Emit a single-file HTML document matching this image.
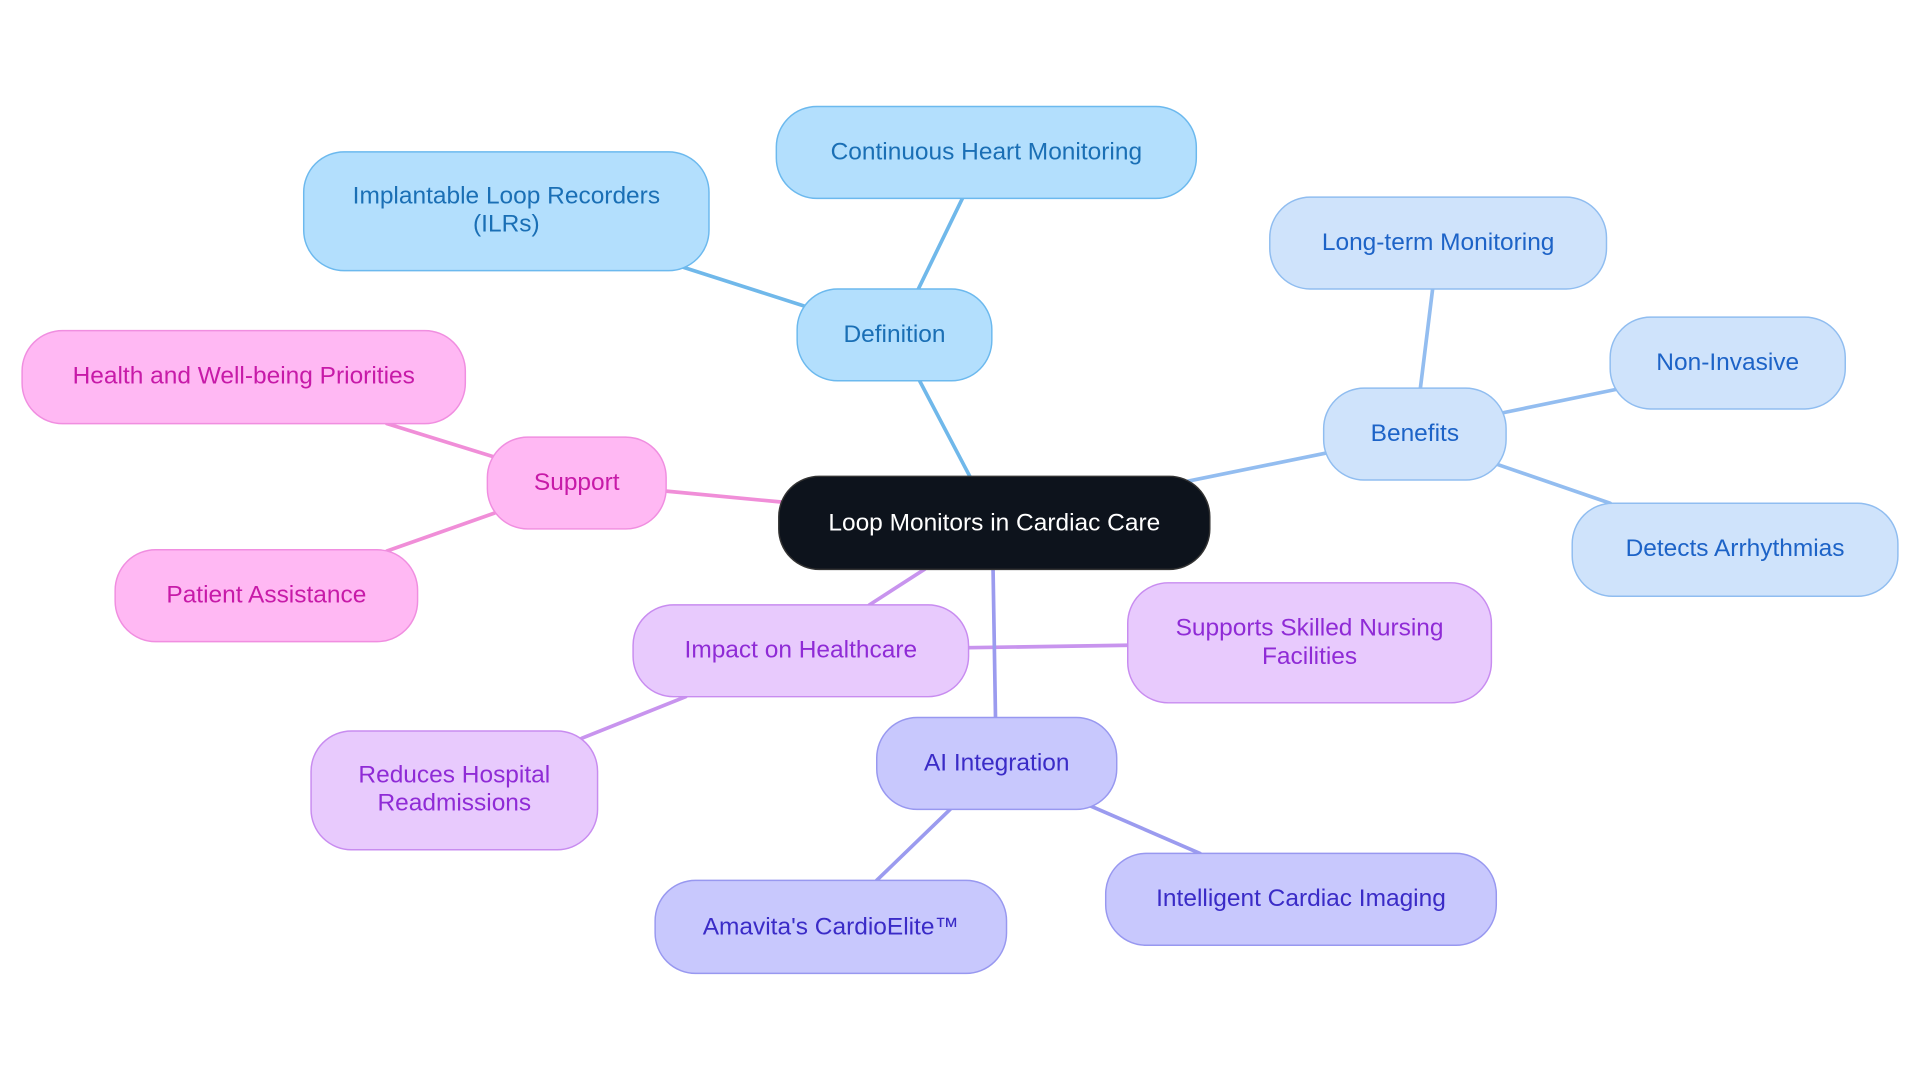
<!DOCTYPE html>
<html><head><meta charset="utf-8"><style>
html,body{margin:0;padding:0;background:#fff;}
svg{display:block}
text{font-family:"Liberation Sans",sans-serif;font-size:20px;text-anchor:middle;dominant-baseline:central}
</style></head><body>
<svg width="1920" height="1083" viewBox="0 0 1568 884.5" xmlns="http://www.w3.org/2000/svg">
<g stroke-width="3" fill="none" stroke-linecap="round">
<line x1="792" y1="389" x2="751" y2="311" stroke="#70b8ea"/>
<line x1="750" y1="236" x2="786" y2="162" stroke="#70b8ea"/>
<line x1="657" y1="250" x2="557" y2="218" stroke="#70b8ea"/>
<line x1="970" y1="393" x2="1083" y2="370" stroke="#93bdf0"/>
<line x1="1160" y1="317" x2="1170" y2="236" stroke="#93bdf0"/>
<line x1="1228" y1="337" x2="1320" y2="318" stroke="#93bdf0"/>
<line x1="1222" y1="379" x2="1315" y2="411" stroke="#93bdf0"/>
<line x1="638" y1="410" x2="543" y2="401" stroke="#f08ed8"/>
<line x1="403" y1="373" x2="316" y2="346" stroke="#f08ed8"/>
<line x1="404" y1="419" x2="316" y2="450" stroke="#f08ed8"/>
<line x1="755" y1="465" x2="710" y2="494" stroke="#c894ee"/>
<line x1="791" y1="529" x2="921" y2="527" stroke="#c894ee"/>
<line x1="560" y1="569" x2="475" y2="603" stroke="#c894ee"/>
<line x1="811" y1="465" x2="813" y2="586" stroke="#9b9bef"/>
<line x1="776" y1="661" x2="716" y2="719" stroke="#9b9bef"/>
<line x1="890" y1="658" x2="980" y2="697" stroke="#9b9bef"/>
</g>
<g stroke-width="1.2">
<rect x="636" y="389" width="352" height="76" rx="33" fill="#0d131c" stroke="#333"/>
<g fill="#b3dffd" stroke="#6cb9ee">
<rect x="651" y="236" width="159" height="75" rx="33"/>
<rect x="634" y="87" width="343" height="75" rx="33"/>
<rect x="248" y="124" width="331" height="97" rx="33"/>
</g>
<g fill="#cfe3fb" stroke="#90bdf0">
<rect x="1081" y="317" width="149" height="75" rx="33"/>
<rect x="1037" y="161" width="275" height="75" rx="33"/>
<rect x="1315" y="259" width="192" height="75" rx="33"/>
<rect x="1284" y="411" width="266" height="76" rx="33"/>
</g>
<g fill="#ffb8f3" stroke="#f08ee0">
<rect x="398" y="357" width="146" height="75" rx="33"/>
<rect x="18" y="270" width="362" height="76" rx="33"/>
<rect x="94" y="449" width="247" height="75" rx="33"/>
</g>
<g fill="#e8cafd" stroke="#c88cf0">
<rect x="517" y="494" width="274" height="75" rx="33"/>
<rect x="921" y="476" width="297" height="98" rx="33"/>
<rect x="254" y="597" width="234" height="97" rx="33"/>
</g>
<g fill="#c8c8fd" stroke="#9898f0">
<rect x="716" y="586" width="196" height="75" rx="33"/>
<rect x="535" y="719" width="287" height="76" rx="33"/>
<rect x="903" y="697" width="319" height="75" rx="33"/>
</g>
</g>
<text x="812" y="427" fill="#ffffff">Loop Monitors in Cardiac Care</text>
<g fill="#1a6fb5">
<text x="730.5" y="273">Definition</text>
<text x="805.5" y="124">Continuous Heart Monitoring</text>
<text x="413.5" y="160">Implantable Loop Recorders</text>
<text x="413.5" y="183">(ILRs)</text>
</g>
<g fill="#1d63c7">
<text x="1155.5" y="354">Benefits</text>
<text x="1174.5" y="198">Long-term Monitoring</text>
<text x="1411" y="296">Non-Invasive</text>
<text x="1417" y="448">Detects Arrhythmias</text>
</g>
<g fill="#c71aa8">
<text x="471" y="394">Support</text>
<text x="199" y="307">Health and Well-being Priorities</text>
<text x="217.5" y="486">Patient Assistance</text>
</g>
<g fill="#8f2bd6">
<text x="654" y="531">Impact on Healthcare</text>
<text x="1069.5" y="513">Supports Skilled Nursing</text>
<text x="1069.5" y="536">Facilities</text>
<text x="371" y="633">Reduces Hospital</text>
<text x="371" y="656">Readmissions</text>
</g>
<g fill="#3a2bc7">
<text x="814" y="623">AI Integration</text>
<text x="678.5" y="757">Amavita's CardioElite™</text>
<text x="1062.5" y="734">Intelligent Cardiac Imaging</text>
</g>
</svg>
</body></html>
